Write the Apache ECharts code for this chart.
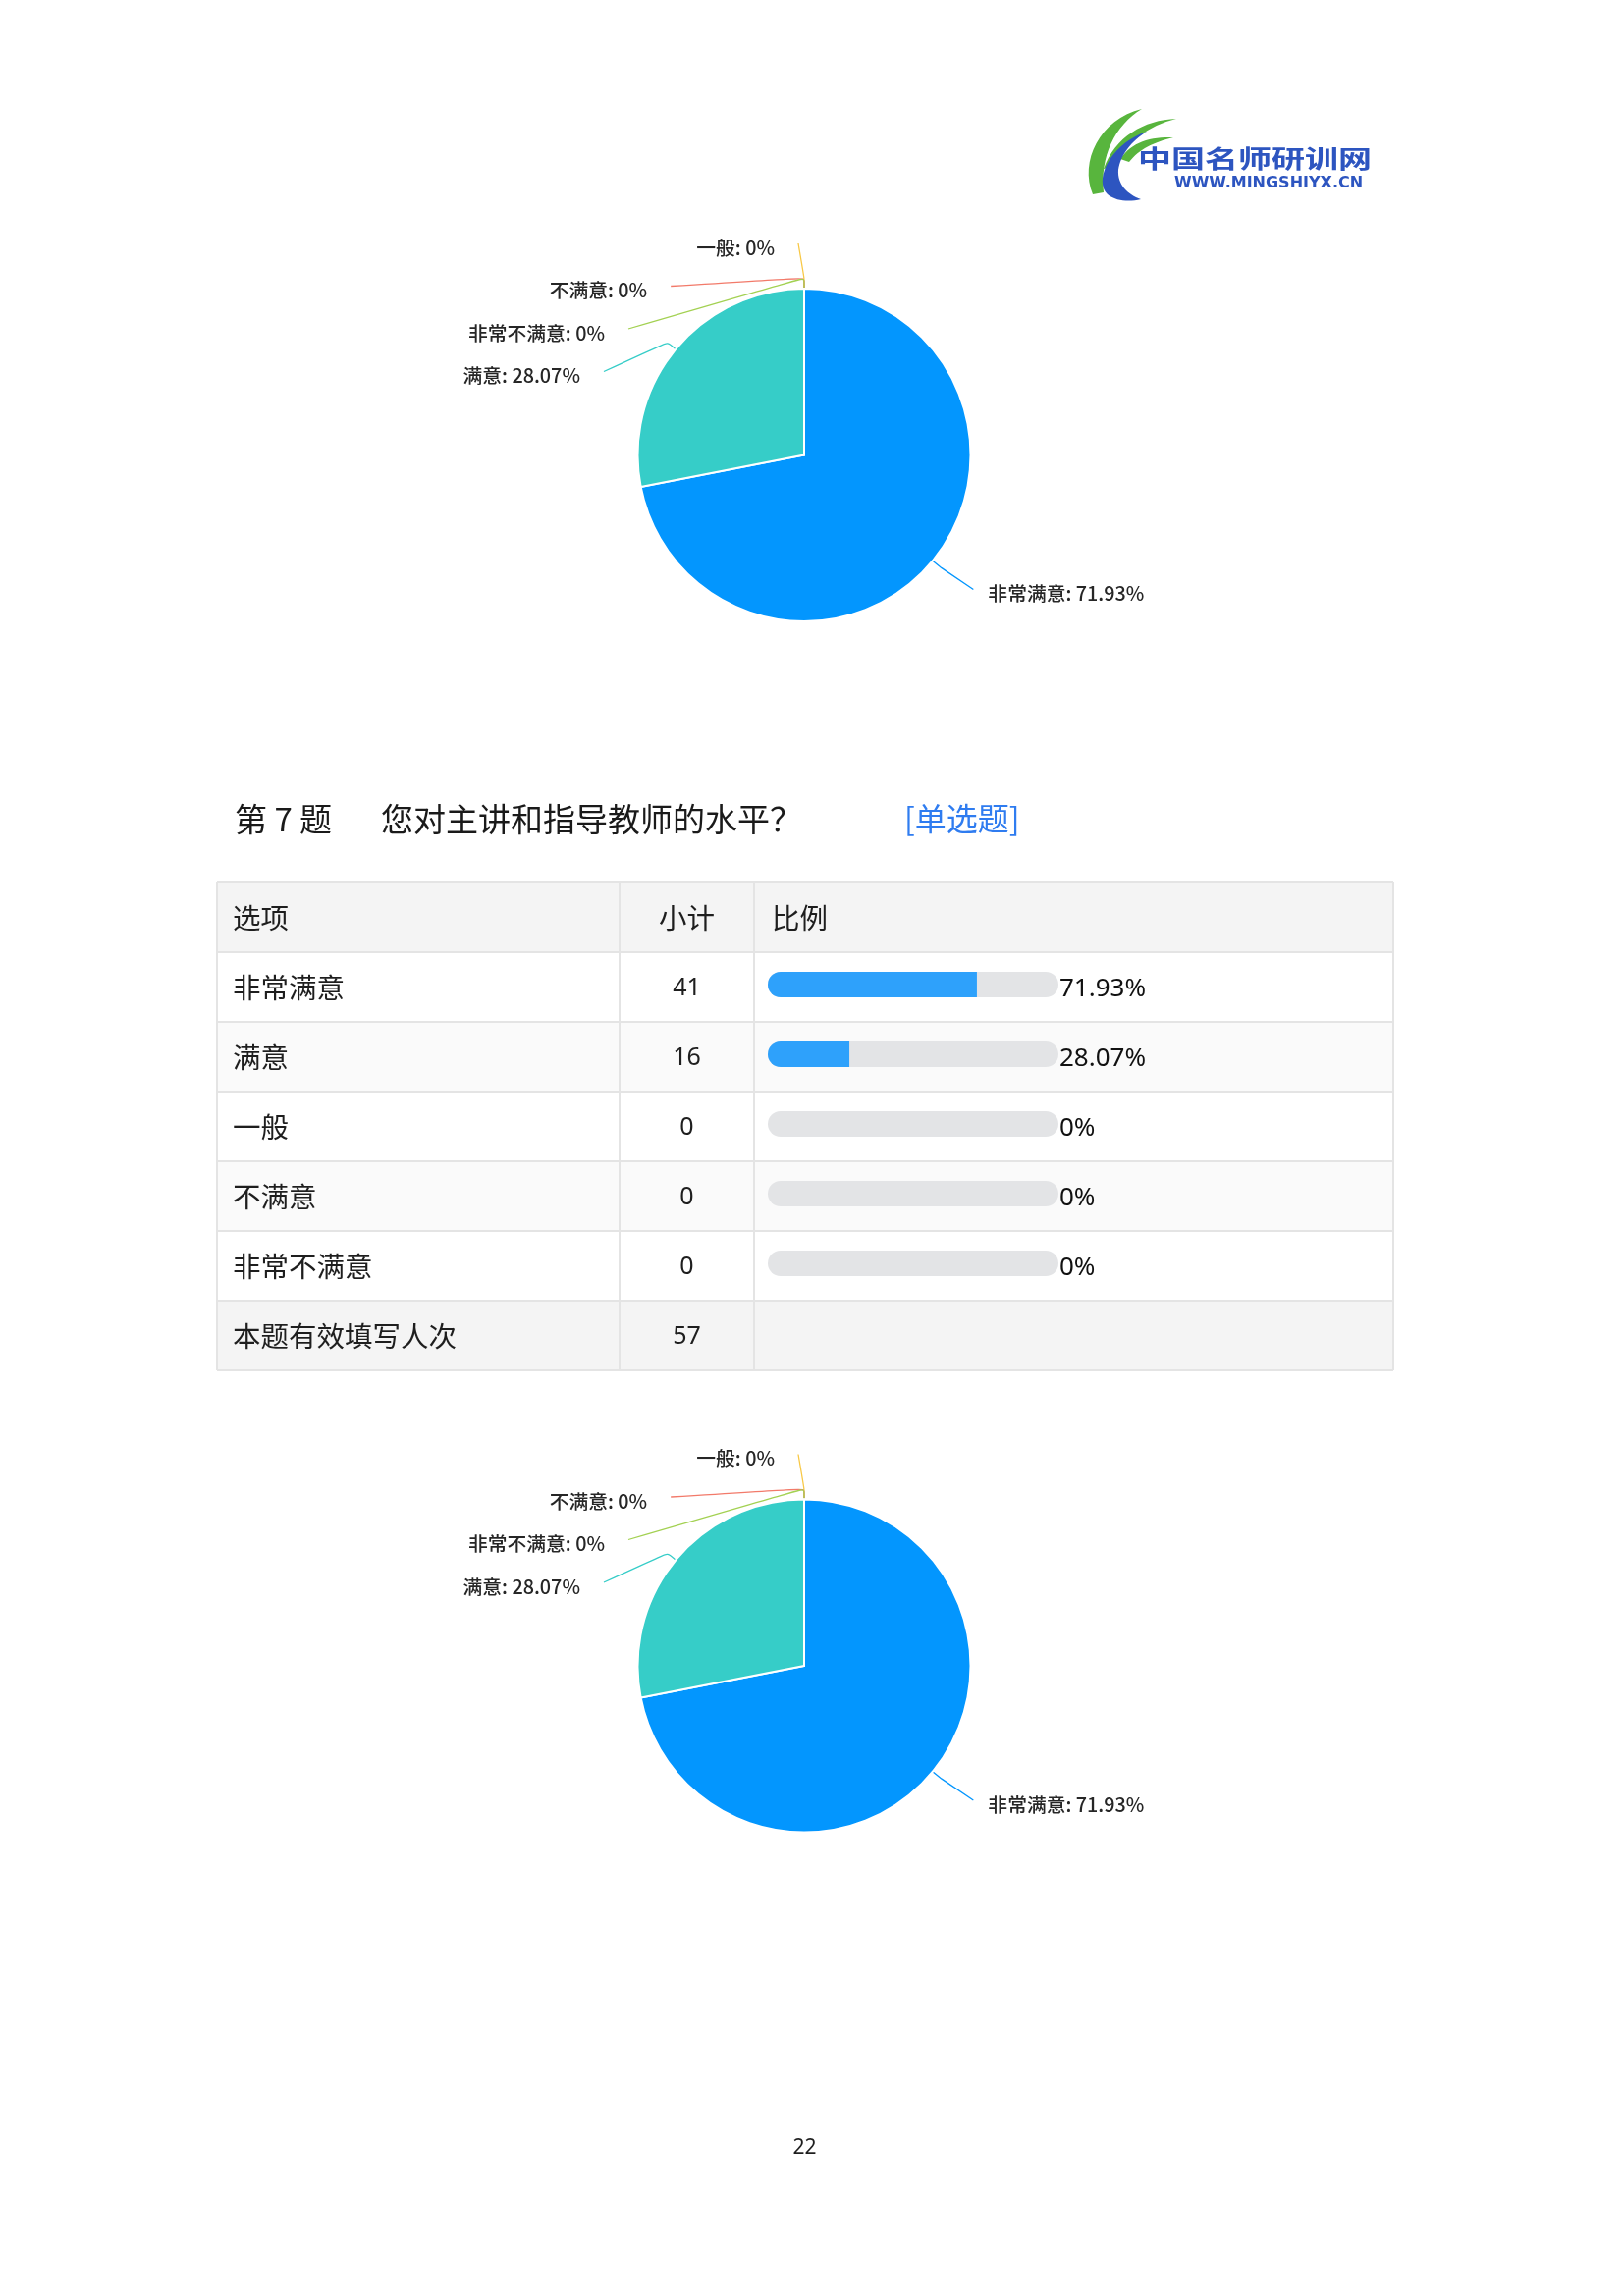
<!DOCTYPE html>
<html><head><meta charset="utf-8">
<script src="https://cdn.jsdelivr.net/npm/echarts@6/dist/echarts.min.js"></script>
<style>html,body{margin:0;padding:0;background:#fff}#c{width:1654px;height:2339px}</style>
</head><body><div id="c"></div>
<script>
// ---- data ----
const optionNames = ['非常满意', '满意', '一般', '不满意', '非常不满意'];
const counts = [41, 16, 0, 0, 0];
const totalCount = 57;
const headers = ['选项', '小计', '比例'];
const totalLabel = '本题有效填写人次';
const questionNo = '第 7 题';
const questionText = '您对主讲和指导教师的水平？';
const questionType = '[单选题]';
const pageNumber = '22';
const logoTitle = '中国名师研训网';
const logoUrl = 'WWW.MINGSHIYX.CN';

const pieColors = ['#0396FE', '#36CDC8', '#F8C845', '#F27A6A', '#A3D152'];
const pct = counts.map(c => Math.round(c / totalCount * 10000) / 100);

// ---- layout ----
const CJK = '"Noto Sans CJK SC", "Noto Sans", sans-serif';
const LAT = '"Noto Sans", "Noto Sans CJK SC", sans-serif';
const tblL = 221, tblR = 1419, tblT = 899, rowH = 71;
const colX = [221, 631, 768, 1419];
const nRows = optionNames.length + 2;
const pieCenters = [[819, 463.5], [819, 1697]];

// sample a closed shape made of cubic bezier segments into polygon points
function bez(start, segs) {
  const pts = [start];
  let p0 = start;
  segs.forEach(s => {
    const [c1, c2, p3] = s;
    for (let i = 1; i <= 16; i++) {
      const t = i / 16, u = 1 - t;
      pts.push([
        u*u*u*p0[0] + 3*u*u*t*c1[0] + 3*u*t*t*c2[0] + t*t*t*p3[0],
        u*u*u*p0[1] + 3*u*u*t*c1[1] + 3*u*t*t*c2[1] + t*t*t*p3[1]
      ]);
    }
    p0 = p3;
  });
  return pts;
}

const g = [];
// logo
const green = '#58B53D', blue = '#2D55C0';
g.push({type: 'polygon', shape: {points: bez([1113,198], [[[1099,165],[1120,121],[1163,111]], [[1135,128],[1120,160],[1124,196]]])}, style: {fill: green}});
g.push({type: 'polygon', shape: {points: bez([1124,172], [[[1135,140],[1165,122],[1198,121]], [[1170,128],[1146,145],[1134,170]]])}, style: {fill: green}});
g.push({type: 'polygon', shape: {points: bez([1141,162], [[[1152,145],[1172,139],[1195,140]], [[1175,145],[1160,152],[1150,165]]])}, style: {fill: green}});
g.push({type: 'polygon', shape: {points: bez([1168,134], [[[1135,145],[1118,175],[1124,192]], [[1128,203],[1145,207],[1162,203]], [[1148,198],[1138,188],[1139,173]], [[1141,158],[1152,144],[1168,134]]])}, style: {fill: blue}});
g.push({type: 'text', x: 1159, y: 162, scaleY: 0.72, style: {text: logoTitle, fontSize: 34, fontWeight: 'bold', fontFamily: CJK, fill: blue, verticalAlign: 'middle'}});
g.push({type: 'text', x: 1196, y: 187, style: {text: logoUrl, fontSize: 16, fontWeight: 'bold', fontFamily: '"DejaVu Sans"', fill: blue, verticalAlign: 'middle'}});

// title
g.push({type: 'text', x: 239, y: 834, style: {text: questionNo, fontSize: 33, fontFamily: CJK, fill: '#1a1a1a', verticalAlign: 'middle'}});
g.push({type: 'text', x: 388, y: 834, style: {text: questionText, fontSize: 33, fontFamily: CJK, fill: '#1a1a1a', verticalAlign: 'middle'}});
g.push({type: 'text', x: 921, y: 834, style: {text: questionType, fontSize: 32, fontFamily: CJK, fill: '#2F7CF0', verticalAlign: 'middle'}});

// table backgrounds
const rowFill = ['#F4F4F4', '#FFFFFF', '#FAFAFA', '#FFFFFF', '#FAFAFA', '#FFFFFF', '#F4F4F4'];
for (let r = 0; r < nRows; r++) {
  g.push({type: 'rect', z: -10, shape: {x: tblL, y: tblT + r * rowH, width: tblR - tblL, height: rowH}, style: {fill: rowFill[r]}});
}
for (let r = 0; r <= nRows; r++) {
  g.push({type: 'line', z: -5, shape: {x1: tblL, y1: tblT + r * rowH, x2: tblR, y2: tblT + r * rowH}, style: {stroke: '#E4E4E4', lineWidth: 2}});
}
colX.forEach(x => g.push({type: 'line', z: -5, shape: {x1: x, y1: tblT, x2: x, y2: tblT + nRows * rowH}, style: {stroke: '#E4E4E4', lineWidth: 2}}));

// table texts
const txt = (x, y, s, align, fam, size) => g.push({type: 'text', x: x, y: y, style: {text: s, fontSize: size, fontFamily: fam, fill: '#1e1e1e', align: align, verticalAlign: 'middle'}});
const rowC = r => tblT + r * rowH + rowH / 2 + 1;
txt(237, rowC(0), headers[0], 'left', CJK, 28.5);
txt(699.5, rowC(0), headers[1], 'center', CJK, 28.5);
txt(786, rowC(0), headers[2], 'left', CJK, 28.5);
optionNames.forEach((n, i) => {
  txt(237, rowC(i + 1), n, 'left', CJK, 28.5);
  txt(699.5, rowC(i + 1), String(counts[i]), 'center', LAT, 25);
});
txt(237, rowC(nRows - 1), totalLabel, 'left', CJK, 28.5);
txt(699.5, rowC(nRows - 1), String(totalCount), 'center', LAT, 25);

// page number
txt(819.5, 2188, pageNumber, 'center', LAT, 21);

const pieData = optionNames.map((n, i) => ({name: n, value: counts[i]}));
const pieSeries = (idx) => ({
  type: 'pie',
  center: pieCenters[idx],
  radius: 169.5,
  startAngle: 90,
  clockwise: true,
  color: pieColors,
  data: pieData,
  itemStyle: {borderColor: '#fff', borderWidth: 2},
  label: {formatter: '{b}: {d}%', fontSize: 19.8, fontWeight: 500, fontFamily: CJK, color: '#262626',
    lineHeight: 29.5, padding: [12, 0, 0, 0], distanceToLabelLine: 0},
  labelLine: {length: 46, length2: 6, smooth: 0.2, lineStyle: {width: 1.3}},
  labelLayout: function (p) {
    const pts = p.labelLinePoints;
    if (!pts || pts.length < 3) return {};
    const c = pieCenters[idx];
    const e = pts[0];
    const dx = e[0] - c[0], dy = e[1] - c[1];
    const d = Math.hypot(dx, dy) || 1;
    const hook = [e[0] + dx / d * 11, e[1] + dy / d * 11];
    const left = p.labelRect.x + p.labelRect.width / 2 < c[0];
    return {dx: left ? -24 : 15, dy: 4, labelLinePoints: [[e[0], e[1]], hook, [pts[2][0], pts[2][1]]]};
  },
  emphasis: {disabled: true}
});

const chart = echarts.init(document.getElementById('c'));
chart.setOption({
  backgroundColor: '#fff',
  animation: false,
  graphic: {elements: g},
  grid: {left: 782, top: 967.5, width: 296, height: 355, containLabel: false},
  xAxis: {type: 'value', min: 0, max: 100, show: false},
  yAxis: {type: 'category', data: optionNames, inverse: true, show: false},
  series: [
    pieSeries(0),
    pieSeries(1),
    {
      type: 'bar', data: optionNames.map(() => 100), barWidth: 26, silent: true,
      itemStyle: {color: '#E3E4E6', borderRadius: 13},
      label: {show: true, position: 'right', distance: 1, offset: [0, 5], fontSize: 26, fontFamily: LAT, color: '#111',
        formatter: p => pct[p.dataIndex] + '%'}
    },
    {
      type: 'bar', data: pct, barWidth: 26, barGap: '-100%', silent: true,
      itemStyle: {color: '#2EA1FB', borderRadius: [13, 0, 0, 13]}
    }
  ]
});
</script></body></html>
